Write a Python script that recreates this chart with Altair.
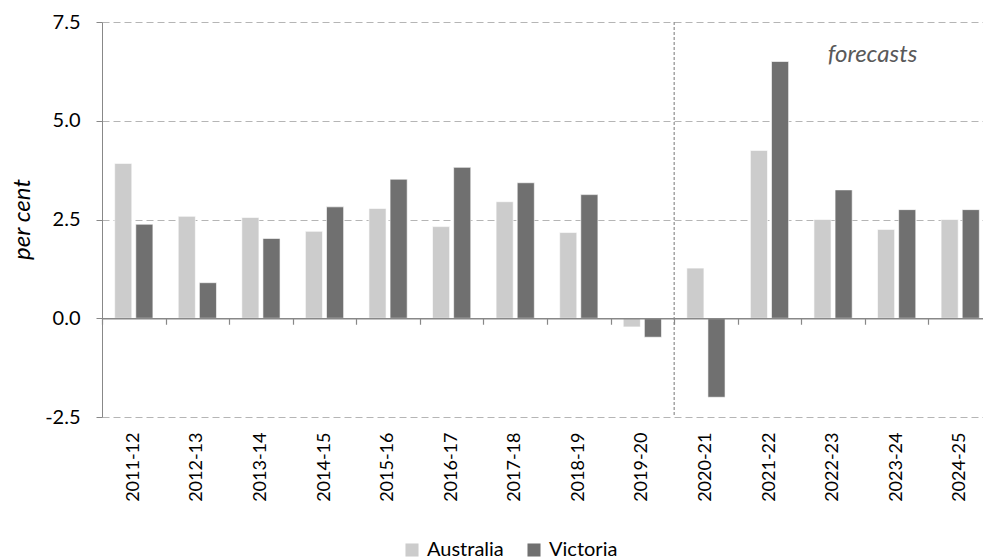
import altair as alt
import pandas as pd

years = ["2011-12", "2012-13", "2013-14", "2014-15", "2015-16", "2016-17", "2017-18",
         "2018-19", "2019-20", "2020-21", "2021-22", "2022-23", "2023-24", "2024-25"]
australia = [3.92, 2.58, 2.55, 2.2, 2.78, 2.32, 2.95, 2.17, -0.22, 1.27, 4.25, 2.5, 2.25, 2.5]
victoria = [2.38, 0.9, 2.02, 2.82, 3.52, 3.82, 3.43, 3.13, -0.48, -2.0, 6.5, 3.25, 2.75, 2.75]
series = ["Australia", "Victoria"]
colors = ["#cccccc", "#707070"]
forecast_start = "2020-21"
y_ticks = [-2.5, 0.0, 2.5, 5.0, 7.5]

rows = []
for i, yr in enumerate(years):
    rows.append({"year": yr, "series": "Australia", "value": australia[i]})
    rows.append({"year": yr, "series": "Victoria", "value": victoria[i]})
df = pd.DataFrame(rows)

FONT = "Lato"
xscale = alt.Scale(domain=years, paddingInner=0, paddingOuter=0, range=[0, 890])

bars = alt.Chart(df).mark_bar(stroke="white", strokeWidth=0.6).encode(
    x=alt.X("year:N", sort=years, scale=xscale,
            axis=alt.Axis(title=None, orient="bottom", domain=False, ticks=False, labelAngle=-90,
                          labelAlign="right", labelBaseline="middle", labelPadding=15,
                          labelFontSize=18, labelFont=FONT, labelColor="#000000", grid=False)),
    xOffset=alt.XOffset("series:N", sort=series,
                        scale=alt.Scale(paddingInner=0.19, paddingOuter=0.6)),
    y=alt.Y("value:Q", scale=alt.Scale(domain=[-2.5, 7.5], nice=False),
            axis=alt.Axis(values=y_ticks, title="per cent",
                          labelExpr="replace(format(datum.value, '.1f'), '\u2212', '-')",
                          titleFont=FONT, titleFontSize=24, titleFontStyle="italic",
                          titleFontWeight="normal", titleColor="#000000",
                          titleAngle=-90, titleAlign="center", titleBaseline="middle",
                          titleX=-80, titleY=197,
                          labelFont=FONT, labelFontSize=20, labelColor="#000000",
                          labelPadding=16, tickSize=6, tickColor="#888888",
                          domainColor="#888888", gridColor="#b5b5b5", gridDash=[7, 4],
                          gridWidth=1.2)),
    color=alt.Color("series:N", sort=series,
                    scale=alt.Scale(domain=series, range=colors),
                    legend=alt.Legend(title=None, orient="none", direction="horizontal",
                                      legendX=300, legendY=518, symbolType="square",
                                      symbolSize=170, symbolStrokeWidth=0,
                                      labelFont=FONT, labelFontSize=20, labelColor="#000000",
                                      labelOffset=5, columnPadding=20, padding=0)),
)

divider = alt.Chart(pd.DataFrame({"year": [forecast_start]})).mark_rule(
    color="#777777", strokeDash=[3, 2], strokeWidth=1
).encode(
    x=alt.X("year:N", sort=years, scale=xscale, bandPosition=0,
            axis=alt.Axis(title=None, orient="bottom", labels=False, ticks=True,
                          tickBand="extent", tickSize=6, tickColor="#888888", tickWidth=1.2,
                          domain=True, domainColor="#888888", domainWidth=1.5,
                          offset=-98.75, grid=False, zindex=2)),
)

note = alt.Chart(pd.DataFrame({"year": ["2023-24"], "value": [6.66], "label": ["forecasts"]})).mark_text(
    font=FONT, fontSize=24, fontStyle="italic", color="#595959", align="center", baseline="middle"
).encode(
    x=alt.X("year:N", sort=years, scale=xscale, bandPosition=0.12, axis=None),
    y=alt.Y("value:Q"),
    text="label:N",
)

chart = alt.layer(bars, divider, note).resolve_axis(x="independent").properties(
    width=881, height=395,
    autosize=alt.AutoSizeParams(type="none"),
    padding={"left": 102, "top": 22, "right": 0, "bottom": 142},
).configure_view(stroke=None).configure_axis(labelFont=FONT)

chart.save("out.html", embed_options={"renderer": "svg", "actions": False})
